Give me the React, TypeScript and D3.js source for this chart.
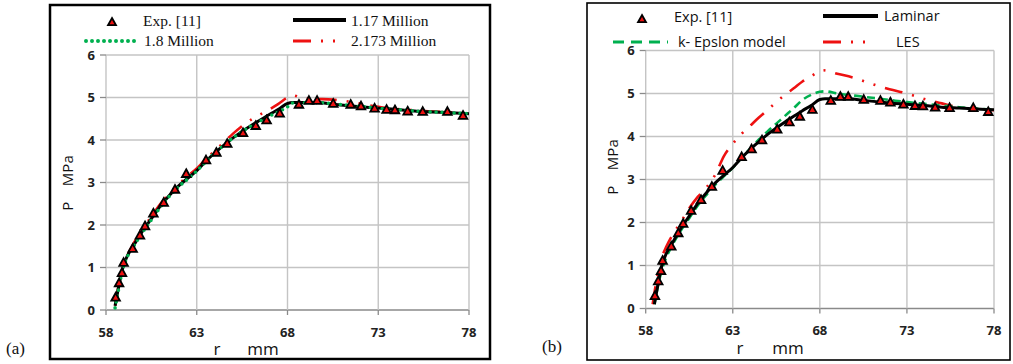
import React from "react";
import * as d3 from "d3";

// ---------- data ----------
const X_TICKS = [58, 63, 68, 73, 78];
const Y_TICKS = [0, 1, 2, 3, 4, 5, 6];

const EXP_R = [58.53, 58.72, 58.88, 58.97, 59.47, 59.87, 60.15, 60.61, 61.18, 61.8, 62.42, 63.51, 64.08, 64.68, 65.55, 66.25, 66.85, 67.57, 68.63, 69.18, 69.63, 70.52, 71.48, 72.05, 72.8, 73.46, 73.92, 74.62, 75.45, 76.81, 77.67];
const EXP_P = [0.3, 0.64, 0.88, 1.12, 1.45, 1.76, 1.98, 2.28, 2.53, 2.84, 3.21, 3.53, 3.71, 3.92, 4.17, 4.34, 4.47, 4.63, 4.84, 4.93, 4.93, 4.86, 4.84, 4.8, 4.75, 4.72, 4.71, 4.68, 4.67, 4.67, 4.58];

// 1.17 Million / Laminar
const BLACK_R = [58.5, 58.7, 58.9, 59.1, 59.5, 60, 60.5, 61, 61.5, 62, 62.5, 63, 63.5, 64, 64.5, 65, 65.5, 66, 66.5, 67, 67.5, 68, 68.3, 69.7, 70.5, 72, 73, 74, 75, 76, 77, 78];
const BLACK_P = [0.1, 0.55, 0.95, 1.2, 1.5, 1.85, 2.15, 2.45, 2.7, 2.92, 3.1, 3.28, 3.5, 3.7, 3.88, 4.05, 4.2, 4.34, 4.47, 4.6, 4.72, 4.86, 4.88, 4.88, 4.84, 4.78, 4.75, 4.72, 4.68, 4.66, 4.64, 4.62];

// 1.8 Million
const GREEN_A_R = [58.5, 58.7, 58.9, 59.1, 59.5, 60, 60.5, 61, 61.5, 62, 62.5, 63, 63.5, 64, 64.5, 65, 65.5, 66, 66.5, 67, 67.5, 68, 68.3, 69.7, 70.5, 72, 73, 74, 75, 76, 77, 78];
const GREEN_A_P = [0.05, 0.5, 0.92, 1.18, 1.48, 1.82, 2.12, 2.42, 2.68, 2.9, 3.08, 3.27, 3.49, 3.7, 3.88, 4.05, 4.2, 4.33, 4.45, 4.56, 4.66, 4.78, 4.87, 4.88, 4.85, 4.79, 4.75, 4.72, 4.68, 4.66, 4.64, 4.62];

// 2.173 Million
const RED_A_R = [58.5, 58.8, 59.1, 59.5, 60, 60.5, 61, 61.5, 62, 62.5, 63, 63.5, 64, 64.5, 65, 65.5, 66, 66.5, 67, 67.5, 68, 68.3, 68.8, 69.5, 70.5, 72, 73, 74, 75, 76, 77, 78];
const RED_A_P = [0.1, 0.8, 1.2, 1.55, 1.9, 2.2, 2.5, 2.75, 2.96, 3.15, 3.33, 3.55, 3.75, 3.95, 4.15, 4.33, 4.48, 4.6, 4.72, 4.85, 5.0, 5.05, 4.99, 4.97, 4.95, 4.86, 4.78, 4.73, 4.7, 4.67, 4.65, 4.63];

// k- Epslon model
const GREEN_B_R = [58.5, 58.8, 59.1, 59.5, 60, 60.5, 61, 61.5, 62, 62.5, 63, 63.5, 64, 64.5, 65, 65.5, 66, 66.5, 67, 67.5, 68, 68.3, 69, 70, 71, 72, 73, 74, 75, 76, 77, 78];
const GREEN_B_P = [0.1, 0.7, 1.1, 1.45, 1.8, 2.1, 2.4, 2.65, 2.88, 3.08, 3.27, 3.5, 3.72, 3.93, 4.12, 4.3, 4.48, 4.66, 4.85, 4.97, 5.04, 5.05, 5.0, 4.95, 4.9, 4.85, 4.8, 4.76, 4.72, 4.68, 4.65, 4.62];

// LES
const LES_R = [58.4, 58.6, 58.9, 59.2, 59.6, 60, 60.5, 61, 61.5, 62, 62.5, 63, 63.5, 64, 64.5, 65, 65.5, 66, 66.5, 67, 67.5, 68, 68.2, 69, 70, 71, 72, 73, 74, 75, 76, 77, 78];
const LES_P = [0.1, 0.6, 1.15, 1.45, 1.75, 2.0, 2.33, 2.6, 2.82, 3.12, 3.55, 3.83, 4.06, 4.25, 4.44, 4.62, 4.8, 4.97, 5.12, 5.28, 5.4, 5.52, 5.54, 5.46, 5.36, 5.22, 5.1, 5.0, 4.87, 4.77, 4.68, 4.64, 4.61];

const LEGEND_A = ["Exp. [11]", "1.17 Million", "1.8 Million", "2.173 Million"];
const LEGEND_B = ["Exp. [11]", "Laminar", "k- Epslon model", "LES"];

// ---------- styles ----------
const RED = "#ee1111";
const GREEN = "#00b04f";
const TICK_FONT = "'Open Sans', sans-serif";

type Series = { r: number[]; p: number[]; kind: "black" | "dots" | "dash" | "reddash" };

function zip(r: number[], p: number[]) {
  return r.map((v, i) => [v, p[i]] as [number, number]);
}

function lineStyle(kind: Series["kind"]) {
  switch (kind) {
    case "black":
      return { stroke: "#000", strokeWidth: 3, strokeDasharray: undefined as string | undefined, strokeLinecap: "butt" as const };
    case "dots":
      return { stroke: GREEN, strokeWidth: 3.6, strokeDasharray: "0,6", strokeLinecap: "round" as const };
    case "dash":
      return { stroke: GREEN, strokeWidth: 2.6, strokeDasharray: "8,5", strokeLinecap: "butt" as const };
    case "reddash":
      return { stroke: RED, strokeWidth: 2.6, strokeDasharray: "18,10,2,10,2,10", strokeLinecap: "butt" as const };
  }
}

function Triangle({ x, y, s = 4.3 }: { x: number; y: number; s?: number }) {
  return (
    <path
      d={`M${x},${y - s}L${x + s},${y + s * 0.8}L${x - s},${y + s * 0.8}Z`}
      fill={RED}
      stroke="#000"
      strokeWidth={1.8}
      strokeLinejoin="miter"
    />
  );
}

type PanelProps = {
  frame: { x: number; y: number; w: number; h: number; sw: number };
  px: [number, number];
  py: [number, number];
  series: Series[];
  legend: string[];
  legendFont: string;
  legendSize: number;
  legendPos: {
    tri: [number, number];
    t0: [number, number];
    l1: [number, number, number];
    t1: [number, number];
    l2: [number, number, number];
    t2: [number, number];
    l3: [number, number, number];
    t3: [number, number];
  };
  kinds: Series["kind"][];
  tag: string;
  tagPos: [number, number];
  xLabelPos: { r: number; mm: number; y: number };
  yLabelPos: { x: number; y: number };
};

function Panel(props: PanelProps) {
  const { frame, px, py, series, legend, legendPos: L, kinds } = props;
  const x = d3.scaleLinear().domain([58, 78]).range(px);
  const y = d3.scaleLinear().domain([0, 6]).range(py);
  const line = d3
    .line<[number, number]>()
    .x((d) => x(d[0]))
    .y((d) => y(d[1]))
    .curve(d3.curveMonotoneX);

  const legendLine = (seg: [number, number, number], kind: Series["kind"]) => {
    const st = lineStyle(kind);
    return (
      <line
        x1={seg[0]}
        x2={seg[1]}
        y1={seg[2]}
        y2={seg[2]}
        stroke={st.stroke}
        strokeWidth={st.strokeWidth + (kind === "black" ? 1 : 0.4)}
        strokeDasharray={kind === "dash" ? "11,7" : st.strokeDasharray}
        strokeLinecap={st.strokeLinecap}
      />
    );
  };

  return (
    <g>
      <rect x={frame.x} y={frame.y} width={frame.w} height={frame.h} fill="#fff" stroke="#000" strokeWidth={frame.sw} />
      {/* grid */}
      {Y_TICKS.map((t) => (
        <line key={"gy" + t} x1={px[0]} x2={px[1]} y1={y(t)} y2={y(t)} stroke={t === 0 ? "#8a8a8a" : "#c4c4c4"} strokeWidth={t === 0 ? 1.6 : 1.4} />
      ))}
      {X_TICKS.map((t) => (
        <line key={"gx" + t} x1={x(t)} x2={x(t)} y1={py[0]} y2={py[1]} stroke="#c4c4c4" strokeWidth={1.4} />
      ))}
      {/* tick marks */}
      {Y_TICKS.map((t) => (
        <line key={"ty" + t} x1={px[0] - 6} x2={px[0]} y1={y(t)} y2={y(t)} stroke="#8a8a8a" strokeWidth={1.3} />
      ))}
      {X_TICKS.map((t) => (
        <line key={"tx" + t} x1={x(t)} x2={x(t)} y1={py[0]} y2={py[0] + 5} stroke="#8a8a8a" strokeWidth={1.3} />
      ))}
      {/* tick labels */}
      {Y_TICKS.map((t) => (
        <text key={"ly" + t} x={px[0] - 11} y={y(t)} dy="0.36em" textAnchor="end" fontFamily={TICK_FONT} fontWeight={700} fontSize={13} fill="#222">
          {t}
        </text>
      ))}
      {X_TICKS.map((t) => (
        <text key={"lx" + t} x={x(t)} y={py[0] + 22} dy="0.36em" textAnchor="middle" fontFamily={TICK_FONT} fontWeight={700} fontSize={13} fill="#222">
          {t}
        </text>
      ))}
      {/* axis titles */}
      <text x={props.xLabelPos.r} y={props.xLabelPos.y} textAnchor="middle" fontFamily={TICK_FONT} fontSize={17} fill="#111">r</text>
      <text x={props.xLabelPos.mm} y={props.xLabelPos.y} textAnchor="middle" fontFamily={TICK_FONT} fontSize={17} fill="#111">mm</text>
      <text
        transform={`translate(${props.yLabelPos.x},${props.yLabelPos.y}) rotate(-90)`}
        textAnchor="middle"
        fontFamily={TICK_FONT}
        fontSize={15}
        fill="#111"
        style={{ whiteSpace: "pre" }}
      >
        {"P    MPa"}
      </text>
      {/* series */}
      {series.map((s, i) => {
        const st = lineStyle(s.kind);
        return (
          <path
            key={"s" + i}
            d={line(zip(s.r, s.p)) || ""}
            fill="none"
            stroke={st.stroke}
            strokeWidth={st.strokeWidth}
            strokeDasharray={st.strokeDasharray}
            strokeLinecap={st.strokeLinecap}
            strokeLinejoin="round"
          />
        );
      })}
      {EXP_R.map((r, i) => (
        <Triangle key={"e" + i} x={x(r)} y={y(EXP_P[i])} />
      ))}
      {/* legend */}
      <Triangle x={L.tri[0]} y={L.tri[1]} s={4} />
      <text x={L.t0[0]} y={L.t0[1]} dy="0.35em" fontFamily={props.legendFont} fontSize={props.legendSize} fill="#111">{legend[0]}</text>
      {legendLine(L.l1, kinds[0])}
      <text x={L.t1[0]} y={L.t1[1]} dy="0.35em" fontFamily={props.legendFont} fontSize={props.legendSize} fill="#111">{legend[1]}</text>
      {legendLine(L.l2, kinds[1])}
      <text x={L.t2[0]} y={L.t2[1]} dy="0.35em" fontFamily={props.legendFont} fontSize={props.legendSize} fill="#111">{legend[2]}</text>
      {legendLine(L.l3, kinds[2])}
      <text x={L.t3[0]} y={L.t3[1]} dy="0.35em" fontFamily={props.legendFont} fontSize={props.legendSize} fill="#111">{legend[3]}</text>
      <text x={props.tagPos[0]} y={props.tagPos[1]} fontFamily="'Liberation Serif', 'Times New Roman', serif" fontSize={17} fill="#111">{props.tag}</text>
    </g>
  );
}

export default function App() {
  const seriesA: Series[] = [
    { r: RED_A_R, p: RED_A_P, kind: "reddash" },
    { r: BLACK_R, p: BLACK_P, kind: "black" },
    { r: GREEN_A_R, p: GREEN_A_P, kind: "dots" },
  ];
  const seriesB: Series[] = [
    { r: LES_R, p: LES_P, kind: "reddash" },
    { r: GREEN_B_R, p: GREEN_B_P, kind: "dash" },
    { r: BLACK_R, p: BLACK_P, kind: "black" },
  ];
  return (
    <svg width={1013} height={364} style={{ position: "absolute", left: 0, top: 0, background: "#fff" }}>
      <rect x={0} y={0} width={1013} height={364} fill="#fff" />
      <Panel
        frame={{ x: 50, y: 5, w: 440, h: 354, sw: 2.5 }}
        px={[106, 469]}
        py={[310, 55]}
        series={seriesA}
        legend={LEGEND_A}
        legendFont="'Liberation Serif', 'Times New Roman', serif"
        legendSize={15.5}
        kinds={["black", "dots", "reddash"]}
        legendPos={{
          tri: [112, 22],
          t0: [143, 21],
          l1: [293, 346, 20],
          t1: [351, 21],
          l2: [86, 137, 41],
          t2: [144, 41],
          l3: [293, 340, 41],
          t3: [351, 41],
        }}
        tag="(a)"
        tagPos={[6, 354]}
        xLabelPos={{ r: 217, mm: 263, y: 355 }}
        yLabelPos={{ x: 73, y: 183 }}
      />
      <Panel
        frame={{ x: 587, y: 3, w: 423, h: 357, sw: 1.6 }}
        px={[645.7, 994]}
        py={[308.5, 50.5]}
        series={seriesB}
        legend={LEGEND_B}
        legendFont="'Open Sans', sans-serif"
        legendSize={14.5}
        kinds={["black", "dash", "reddash"]}
        legendPos={{
          tri: [642, 19],
          t0: [674, 17],
          l1: [823, 878, 16],
          t1: [884, 16],
          l2: [613, 668, 42],
          t2: [678, 42],
          l3: [823, 870, 42],
          t3: [896, 42],
        }}
        tag="(b)"
        tagPos={[542, 352]}
        xLabelPos={{ r: 740, mm: 788, y: 354 }}
        yLabelPos={{ x: 618, y: 167 }}
      />
    </svg>
  );
}
